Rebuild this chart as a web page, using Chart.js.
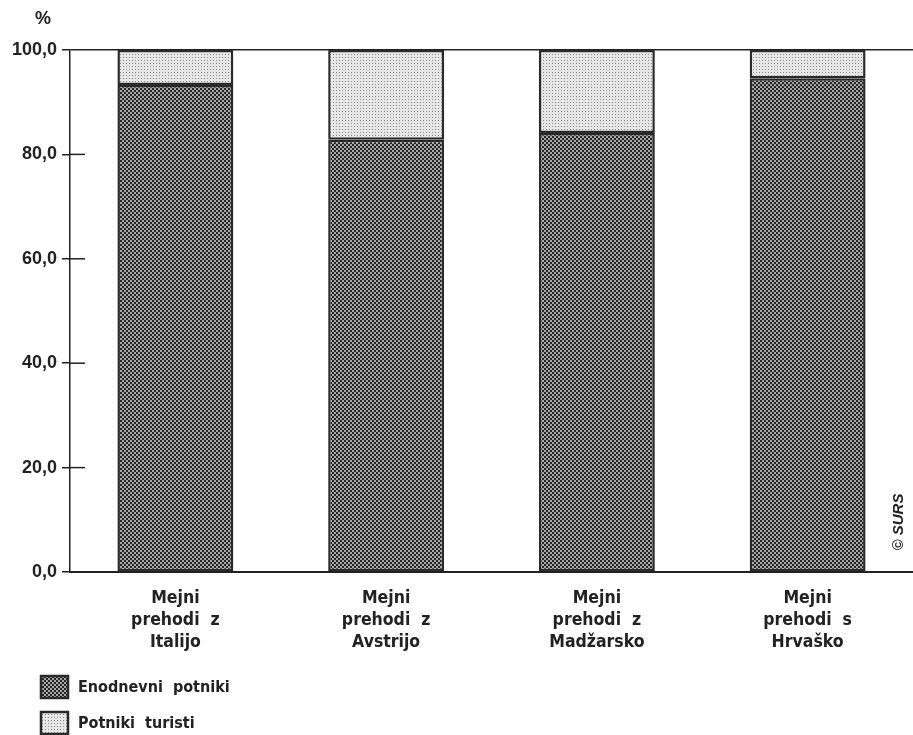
<!DOCTYPE html>
<html><head><meta charset="utf-8">
<script src="https://cdn.jsdelivr.net/npm/chart.js@4.4.1/dist/chart.umd.min.js"></script>
<style>html,body{margin:0;padding:0;background:#fff}#wrap{width:913px;height:735px;position:relative}</style>
</head><body><div id="wrap"><canvas id="c"></canvas></div>
<script>
const categories = [["Mejni","prehodi  z","Italijo"],["Mejni","prehodi  z","Avstrijo"],["Mejni","prehodi  z","Madžarsko"],["Mejni","prehodi  s","Hrvaško"]];
const seriesNames = ["Enodnevni  potniki","Potniki  turisti"];
const enodnevni = [93.3, 82.8, 84.1, 94.6];
const turisti = [6.7, 17.2, 15.9, 5.4];
const yTicks = [0, 20, 40, 60, 80, 100];

const FONT = "'Liberation Sans',Arial,sans-serif";
const CFONT = "'DejaVu Sans Condensed','Liberation Sans Narrow',sans-serif";

function makePattern(bg, fg, size, dots) {
  const c = document.createElement('canvas');
  c.width = size; c.height = size;
  const x = c.getContext('2d');
  x.fillStyle = bg; x.fillRect(0,0,size,size);
  x.fillStyle = fg;
  dots.forEach(d => x.fillRect(d[0], d[1], d[2], d[2]));
  return x.createPattern(c, 'repeat');
}
const ctx0 = document.getElementById('c');
const darkPat = makePattern('#a6a6a6', '#262626', 4, [[0,0,2],[2,2,2]]);
const lightPat = makePattern('#e6e6e6', '#8e8e8e', 3, [[0,0,1]]);

const extras = {
  id: 'extras',
  afterDraw(chart) {
    const c = chart.ctx, y = chart.scales.y, a = chart.chartArea;
    c.save();
    c.strokeStyle = '#222'; c.lineWidth = 1.5;
    yTicks.forEach(v => {
      if (v === 0 || v === 100) return;
      const py = y.getPixelForValue(v);
      c.beginPath(); c.moveTo(a.left, py); c.lineTo(a.left + 15, py); c.stroke();
    });
    c.fillStyle = '#222'; c.font = "bold 18px " + FONT;
    c.textAlign = 'center'; c.textBaseline = 'middle';
    c.fillText('%', 43, 19);
    c.translate(899, 522); c.rotate(-Math.PI/2);
    c.font = "italic bold 15px " + FONT;
    c.fillText('© SURS', 0, 0);
    c.restore();
    c.save();
    chart.data.datasets.forEach((d, i) => {
      const top = 676 + i * 36;
      c.fillStyle = d.backgroundColor;
      c.fillRect(41, top, 27, 22);
      c.strokeStyle = '#2a2a2a'; c.lineWidth = 2.5;
      c.strokeRect(41, top, 27, 22);
      c.fillStyle = '#222'; c.font = "600 16px " + CFONT;
      c.textAlign = 'left'; c.textBaseline = 'middle';
      c.fillText(d.label, 78, top + 12);
    });
    c.restore();
  }
};

new Chart(ctx0, {
  type: 'bar',
  data: {
    labels: categories,
    datasets: [
      { label: seriesNames[0], data: enodnevni, backgroundColor: darkPat, borderColor: '#2a2a2a', borderWidth: 2.5, borderSkipped: false },
      { label: seriesNames[1], data: turisti, backgroundColor: lightPat, borderColor: '#2a2a2a', borderWidth: 2.5, borderSkipped: false }
    ]
  },
  options: {
    responsive: true, maintainAspectRatio: false, animation: false,
    layout: { padding: { top: 50, right: 0, bottom: 0, left: 0 } },
    plugins: { legend: { display: false }, tooltip: { enabled: false } },
    datasets: { bar: { barPercentage: 0.55, categoryPercentage: 1 } },
    scales: {
      x: {
        stacked: true,
        afterFit(s) { s.height = 163; },
        grid: { display: false, drawTicks: false },
        border: { display: true, color: '#222', width: 2 },
        ticks: { color: '#222', font: { family: CFONT, size: 17.5, weight: '600', lineHeight: '22px' }, padding: 15, maxRotation: 0, autoSkip: false }
      },
      y: {
        stacked: true, min: 0, max: 100,
        afterFit(s) { s.width = 70; },
        afterBuildTicks(s) { s.ticks = yTicks.map(v => ({ value: v })); },
        grid: {
          drawOnChartArea: true, tickLength: 8,
          color: (cx) => cx.tick && cx.tick.value === 100 ? '#222' : 'rgba(0,0,0,0)',
          tickColor: '#222', lineWidth: 1.5
        },
        border: { display: true, color: '#222', width: 1.5 },
        ticks: { color: '#222', font: { family: FONT, size: 18, weight: 'bold' }, padding: 5,
          callback: (v) => Number(v).toFixed(1).replace('.', ',') }
      }
    }
  },
  plugins: [extras]
});
</script></body></html>
